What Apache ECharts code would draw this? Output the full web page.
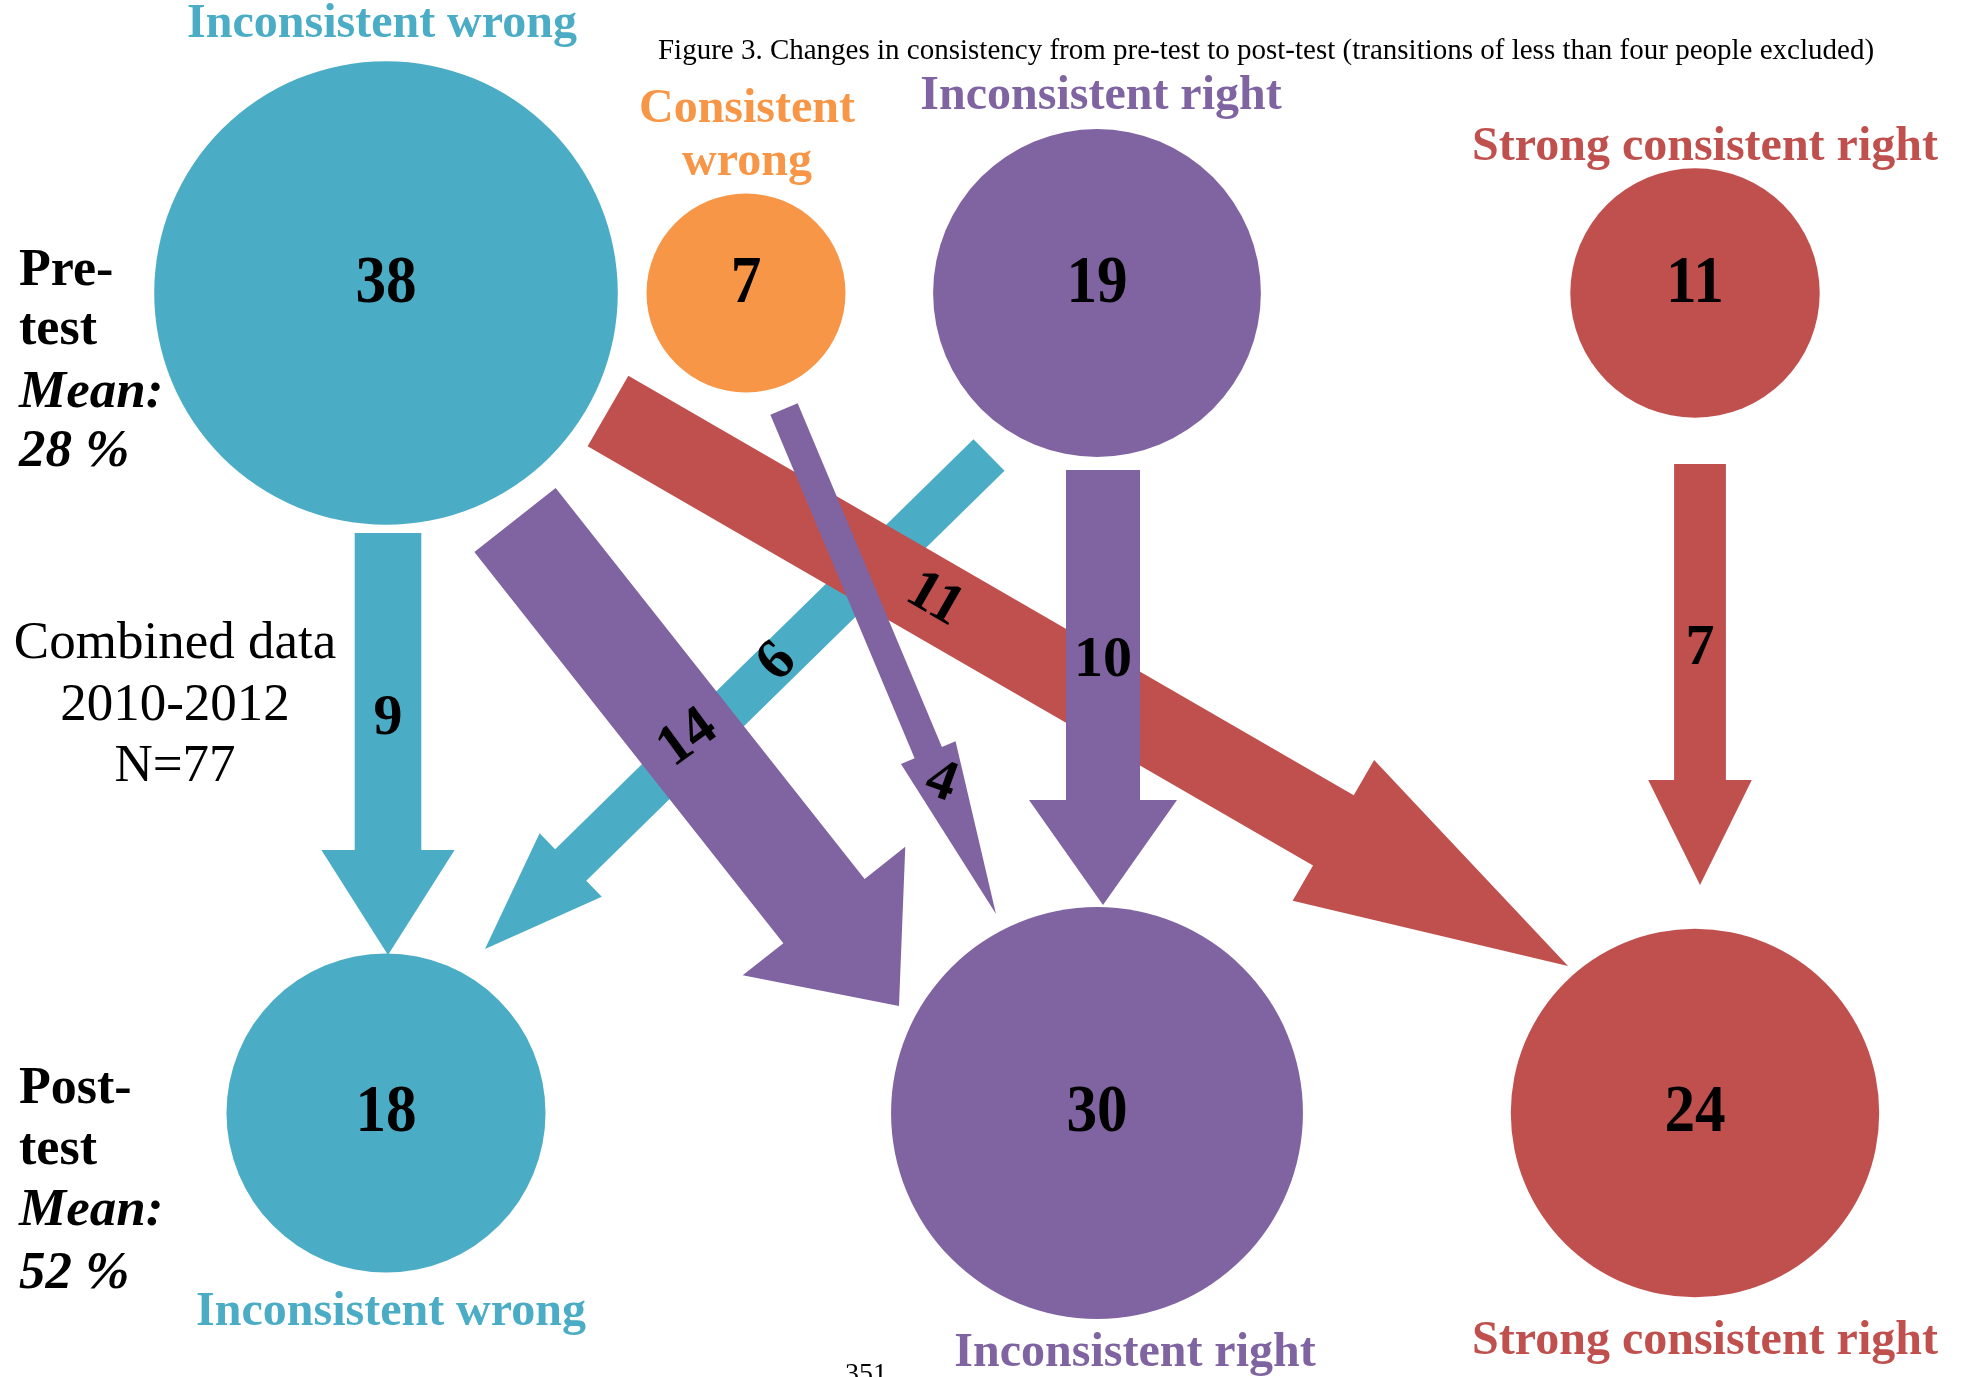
<!DOCTYPE html>
<html>
<head>
<meta charset="utf-8">
<title>Figure 3 - consistency transitions</title>
<script src="https://cdn.jsdelivr.net/npm/echarts@6/dist/echarts.min.js"></script>
<style>
    html, body { margin: 0; padding: 0; background: #fff; }
    #chart { width: 1966px; height: 1377px; }
</style>
</head>
<body>
<div id="chart"></div>
<script>
// --- data ---
const preStates = ['Inconsistent wrong', 'Consistent wrong', 'Inconsistent right', 'Strong consistent right']
const preCounts = [38, 7, 19, 11]
const postStates = ['Inconsistent wrong', 'Inconsistent right', 'Strong consistent right']
const postCounts = [18, 30, 24]
// transitions (from pre state -> to post state), in drawing order
const flowFrom = ['Inconsistent right', 'Inconsistent wrong', 'Inconsistent wrong', 'Inconsistent right', 'Strong consistent right', 'Consistent wrong', 'Inconsistent wrong']
const flowTo = ['Inconsistent wrong', 'Strong consistent right', 'Inconsistent wrong', 'Inconsistent right', 'Strong consistent right', 'Inconsistent right', 'Inconsistent right']
const flowCounts = [6, 11, 9, 10, 7, 4, 14]

// --- layout (axis units == pixels) ---
const colors = {
    'Inconsistent wrong': '#4BACC6',
    'Consistent wrong': '#F79646',
    'Inconsistent right': '#8064A2',
    'Strong consistent right': '#C0504D',
}
const RADIUS_UNIT = 37.6   // circle radius per sqrt(person)
const SHAFT_UNIT = 7.4     // arrow shaft width per person
const preX = [386, 746, 1097, 1695]
const preY = 293
const postX = [386, 1097, 1695]
const postY = 1113
const preLabelDy = -9      // numbers sit a little high in the top row
const arrowStart = [[989, 455], [608, 411], [388, 533], [1103, 470], [1700, 464], [784, 409], [515, 520]]
const arrowTip = [[485, 949], [1568, 966], [388, 955], [1103, 905], [1700, 885], [996, 914], [899, 1006]]
const headLength = [120, 271, 105, 105, 105, 175, 121]
const labelAt = [0.42, 0.34, 0.44, 0.44, 0.44, 0.74, 0.45]
const labelRotate = [45, -30, 0, 0, 0, -20, 36]

const SERIF = '"Liberation Serif", "Times New Roman", serif'

const nodeData = []
preCounts.forEach((n, i) => nodeData.push({ name: 'pre ' + preStates[i], value: [preX[i], preY, n, preLabelDy], itemStyle: { color: colors[preStates[i]] } }))
postCounts.forEach((n, i) => nodeData.push({ name: 'post ' + postStates[i], value: [postX[i], postY, n, 0], itemStyle: { color: colors[postStates[i]] } }))

const arrowData = flowCounts.map((n, i) => ({
    name: flowFrom[i] + ' -> ' + flowTo[i],
    value: [arrowStart[i][0], arrowStart[i][1], arrowTip[i][0], arrowTip[i][1], n, headLength[i], labelAt[i], labelRotate[i]],
    itemStyle: { color: colors[flowTo[i]] },
}))

function renderNode(params, api) {
    const c = api.coord([api.value(0), api.value(1)])
    const r = api.size([RADIUS_UNIT * Math.sqrt(api.value(2)), 0])[0]
    return {
        type: 'group',
        children: [
            { type: 'circle', shape: { cx: c[0], cy: c[1], r: r }, style: { fill: api.visual('color') } },
            {
                type: 'text', x: c[0], y: c[1] + api.value(3), z2: 50, scaleX: 0.9,
                style: { text: String(api.value(2)), font: 'bold 68px ' + SERIF, fill: '#000', align: 'center', verticalAlign: 'middle', textAlign: 'center', textVerticalAlign: 'middle' },
            },
        ],
    }
}

function renderArrow(params, api) {
    const p0 = api.coord([api.value(0), api.value(1)])
    const p1 = api.coord([api.value(2), api.value(3)])
    const half = api.size([SHAFT_UNIT * api.value(4), 0])[0] / 2
    const head = api.size([api.value(5), 0])[0]
    const dx = p1[0] - p0[0], dy = p1[1] - p0[1]
    const len = Math.hypot(dx, dy)
    const ux = dx / len, uy = dy / len
    const nx = -uy, ny = ux
    const bx = p1[0] - ux * head, by = p1[1] - uy * head
    const pts = [
        [p0[0] + nx * half, p0[1] + ny * half],
        [bx + nx * half, by + ny * half],
        [bx + nx * half * 2, by + ny * half * 2],
        [p1[0], p1[1]],
        [bx - nx * half * 2, by - ny * half * 2],
        [bx - nx * half, by - ny * half],
        [p0[0] - nx * half, p0[1] - ny * half],
    ]
    const t = api.value(6)
    return {
        type: 'group',
        children: [
            { type: 'polygon', z2: params.dataIndex, shape: { points: pts }, style: { fill: api.visual('color') } },
            {
                type: 'text', z2: 100, x: p0[0] + dx * t, y: p0[1] + dy * t, rotation: api.value(7) * Math.PI / 180,
                style: { text: String(api.value(4)), font: 'bold 58px ' + SERIF, fill: '#000', align: 'center', verticalAlign: 'middle', textAlign: 'center', textVerticalAlign: 'middle' },
            },
        ],
    }
}

function txt(text, x, y, font, fill, align) {
    const a = align || 'center'
    return {
        type: 'text', x: x, y: y, z: 10,
        style: { text: text, font: font, fill: fill || '#000', align: a, verticalAlign: 'middle', textAlign: a, textVerticalAlign: 'middle' },
    }
}

const catFont = 'bold 48px ' + SERIF
const sideBold = 'bold 52px ' + SERIF
const sideItalic = 'italic bold 53px ' + SERIF
const plain = '53px ' + SERIF

const chart = echarts.init(document.getElementById('chart'))
chart.setOption({
    backgroundColor: '#fff',
    animation: false,
    grid: { left: 0, right: 0, top: 0, bottom: 0 },
    xAxis: { type: 'value', min: 0, max: 1966, show: false },
    yAxis: { type: 'value', min: 0, max: 1377, inverse: true, show: false },
    graphic: [
        txt('Figure 3. Changes in consistency from pre-test to post-test (transitions of less than four people excluded)', 1266, 51, '29px ' + SERIF, '#000'),
        txt('Inconsistent wrong', 382, 25, catFont, colors['Inconsistent wrong']),
        txt('Consistent', 747, 110, catFont, colors['Consistent wrong']),
        txt('wrong', 747, 163, catFont, colors['Consistent wrong']),
        txt('Inconsistent right', 1101, 97, catFont, colors['Inconsistent right']),
        txt('Strong consistent right', 1705, 148, catFont, colors['Strong consistent right']),
        txt('Inconsistent wrong', 391, 1313, catFont, colors['Inconsistent wrong']),
        txt('Inconsistent right', 1135, 1354, catFont, colors['Inconsistent right']),
        txt('Strong consistent right', 1705, 1342, catFont, colors['Strong consistent right']),
        txt('Pre-', 19, 272, sideBold, '#000', 'left'),
        txt('test', 19, 331, sideBold, '#000', 'left'),
        txt('Mean:', 19, 393, sideItalic, '#000', 'left'),
        txt('28 %', 19, 452, sideItalic, '#000', 'left'),
        txt('Post-', 19, 1090, sideBold, '#000', 'left'),
        txt('test', 19, 1151, sideBold, '#000', 'left'),
        txt('Mean:', 19, 1211, sideItalic, '#000', 'left'),
        txt('52 %', 19, 1274, sideItalic, '#000', 'left'),
        txt('Combined data', 175, 644, plain),
        txt('2010-2012', 175, 706, plain),
        txt('N=77', 175, 767, plain),
        txt('351', 866, 1375, '28px ' + SERIF),
    ],
    series: [
        { type: 'custom', name: 'transitions', coordinateSystem: 'cartesian2d', clip: false, z: 2, renderItem: renderArrow, data: arrowData },
        { type: 'custom', name: 'states', coordinateSystem: 'cartesian2d', clip: false, z: 3, renderItem: renderNode, data: nodeData },
    ],
})
</script>
</body>
</html>
